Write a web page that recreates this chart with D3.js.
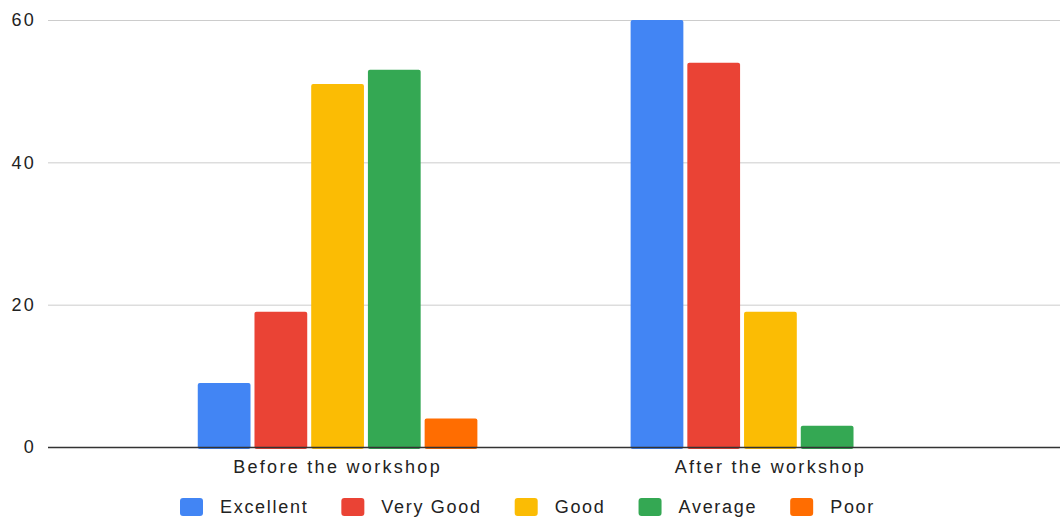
<!DOCTYPE html>
<html>
<head>
<meta charset="utf-8">
<script src="https://cdn.jsdelivr.net/npm/d3@7"></script>
<style>
  html, body { margin: 0; padding: 0; background: #fff; }
  svg { display: block; }
  text { font-family: "Liberation Sans", Arial, sans-serif; fill: #222; }
</style>
</head>
<body>
<svg id="chart" width="1062" height="517"></svg>
<script>
// Survey responses before and after the workshop
const categories = ["Before the workshop", "After the workshop"];
const seriesNames = ["Excellent", "Very Good", "Good", "Average", "Poor"];
const excellent = [9, 60];
const veryGood = [19, 54];
const good = [51, 19];
const average = [53, 3];
const poor = [4, 0];
const yTicks = [0, 20, 40, 60];
const colors = ["#4285F4", "#EA4335", "#FBBC04", "#34A853", "#FF6D01"];

const seriesValues = [excellent, veryGood, good, average, poor];

const W = 1062, H = 517;
const plot = { left: 48, right: 1060, top: 20, bottom: 447 };

const svg = d3.select("#chart");

const x0 = d3.scaleBand()
  .domain(categories)
  .range([plot.left, plot.right])
  .paddingInner(0.354)
  .paddingOuter(0.346);

const x1 = d3.scaleBand()
  .domain(seriesNames)
  .range([0, x0.bandwidth()])
  .paddingInner(0.07);

const y = d3.scaleLinear()
  .domain([0, 60])
  .range([plot.bottom, plot.top]);

const color = d3.scaleOrdinal().domain(seriesNames).range(colors);

// Horizontal gridlines and y labels
const yAxis = d3.axisLeft(y).tickValues(yTicks).tickSize(-(plot.right - plot.left)).tickPadding(12);
const gy = svg.append("g")
  .attr("transform", `translate(${plot.left},0)`)
  .call(yAxis);
gy.select(".domain").remove();
gy.selectAll(".tick line").attr("stroke", "#cccccc").attr("stroke-width", 1);
gy.selectAll(".tick text")
  .attr("font-size", 18)
  .attr("letter-spacing", "2.2px")
  .attr("fill", "#222")
  .style("font-family", "'Liberation Sans', Arial, sans-serif");

// Bars
const rows = categories.map((c, i) => ({
  category: c,
  values: seriesNames.map((s, j) => ({ series: s, value: seriesValues[j][i] }))
}));

const groups = svg.append("g").selectAll("g")
  .data(rows)
  .join("g")
  .attr("transform", d => `translate(${x0(d.category)},0)`);

groups.selectAll("rect")
  .data(d => d.values.filter(v => v.value > 0))
  .join("rect")
  .attr("x", d => x1(d.series))
  .attr("y", d => y(d.value))
  .attr("width", x1.bandwidth())
  .attr("height", d => y(0) - y(d.value) + 2)
  .attr("rx", 2)
  .attr("fill", d => color(d.series));

// Baseline and category labels
const xAxis = d3.axisBottom(x0).tickSize(0).tickPadding(13);
const gx = svg.append("g")
  .attr("transform", `translate(0,${plot.bottom})`)
  .call(xAxis);
gx.select(".domain").remove();
gx.append("line")
  .attr("x1", plot.left).attr("x2", plot.right)
  .attr("y1", 0.5).attr("y2", 0.5)
  .attr("stroke", "#333").attr("stroke-width", 1.3);
gx.selectAll(".tick text")
  .attr("font-size", 18)
  .attr("letter-spacing", "2.3px")
  .attr("fill", "#222")
  .style("font-family", "'Liberation Sans', Arial, sans-serif");

// Legend, centred along the bottom
const legend = svg.append("g");
const swW = 23, swH = 18, textGap = 40, itemGap = 33;
let cx = 0;
seriesNames.forEach((name, i) => {
  const item = legend.append("g").attr("transform", `translate(${cx},0)`);
  item.append("rect")
    .attr("x", 0).attr("y", -swH / 2)
    .attr("width", swW).attr("height", swH)
    .attr("rx", 3)
    .attr("fill", color(name));
  const t = item.append("text")
    .attr("x", textGap).attr("y", 0)
    .attr("dy", "0.36em")
    .attr("font-size", 18)
    .attr("letter-spacing", "1.7px")
    .text(name);
  cx += textGap + t.node().getComputedTextLength() + itemGap;
});
const legendW = cx - itemGap;
legend.attr("transform", `translate(180,507)`);
</script>
</body>
</html>
